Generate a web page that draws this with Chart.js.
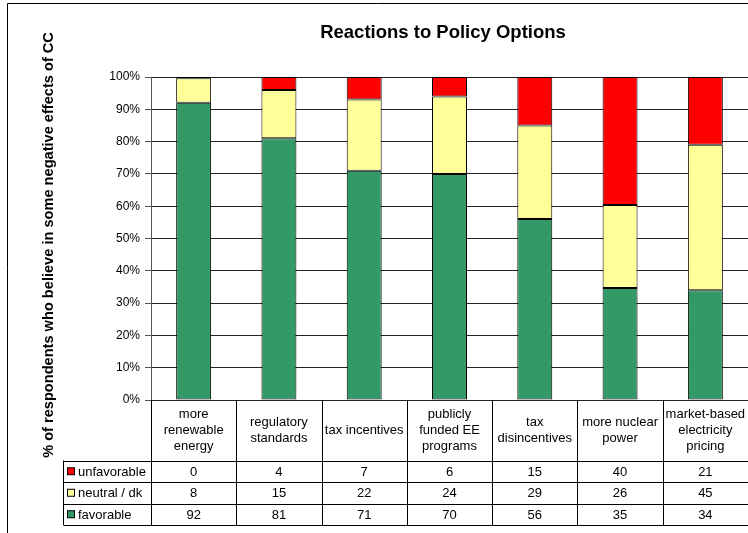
<!DOCTYPE html>
<html>
<head>
<meta charset="utf-8">
<script src="https://cdn.jsdelivr.net/npm/chart.js@4.4.1/dist/chart.umd.min.js"></script>
<style>
html,body{margin:0;padding:0;background:#fff;}
#wrap{width:748px;height:533px;position:relative;}
</style>
</head>
<body>
<div id="wrap"><canvas id="c" width="748" height="533"></canvas></div>
<script>
// ---- data ----
const categories = [
  ['more', 'renewable', 'energy'],
  ['regulatory', 'standards'],
  ['tax incentives'],
  ['publicly', 'funded EE', 'programs'],
  ['tax', 'disincentives'],
  ['more nuclear', 'power'],
  ['market-based', 'electricity', 'pricing']
];
const seriesNames = ['unfavorable', 'neutral / dk', 'favorable'];
const unfavorable = [0.4, 4, 7, 6, 15, 40, 21];
const neutral = [7.6, 15, 22, 24, 29, 26, 45];
const favorable = [92, 81, 71, 70, 56, 35, 34];
const yTicks = [0, 10, 20, 30, 40, 50, 60, 70, 80, 90, 100];
const titleText = 'Reactions to Policy Options';
const yTitle = '% of respondents who believe in some negative effects of CC';

const COLORS = { unfavorable: '#FF0000', neutral: '#FFFF99', favorable: '#339966' };
const FONT = "'Liberation Sans', Arial, sans-serif";

const totals = categories.map((_, i) => unfavorable[i] + neutral[i] + favorable[i]);
const pct = arr => arr.map((v, i) => v / totals[i] * 100);

const tableRows = [
  { name: seriesNames[0], values: unfavorable, color: COLORS.unfavorable },
  { name: seriesNames[1], values: neutral, color: COLORS.neutral },
  { name: seriesNames[2], values: favorable, color: COLORS.favorable }
];

const decorPlugin = {
  id: 'decor',
  afterDraw(chart) {
    const ctx = chart.ctx;
    const area = chart.chartArea;
    const xs = chart.scales.x;
    const n = categories.length;
    const step = xs.getPixelForValue(1) - xs.getPixelForValue(0);
    const edges = [];
    for (let i = 0; i <= n; i++) edges.push(xs.getPixelForValue(i) - step / 2);
    ctx.save();
    // frame
    ctx.strokeStyle = '#000';
    ctx.lineWidth = 1;
    ctx.beginPath();
    ctx.moveTo(7.5, 533); ctx.lineTo(7.5, 3.5); ctx.lineTo(748, 3.5);
    ctx.stroke();
    // title
    ctx.fillStyle = '#000';
    ctx.font = 'bold 18.5px ' + FONT;
    ctx.textAlign = 'center';
    ctx.textBaseline = 'middle';
    ctx.fillText(titleText, 443, 33);
    // y title
    ctx.save();
    ctx.translate(49, 245);
    ctx.rotate(-Math.PI / 2);
    ctx.font = 'bold 14.6px ' + FONT;
    ctx.fillText(yTitle, 0, 0);
    ctx.restore();

    // table
    const top = area.bottom;
    const headerBottom = 460.5;
    const rowH = 21.5;
    const tableLeft = 63.5;
    const rowsBottom = headerBottom + rowH * tableRows.length;
    ctx.strokeStyle = '#000';
    ctx.lineWidth = 1;
    ctx.beginPath();
    edges.forEach((x) => {
      const px = Math.round(x) + 0.5;
      ctx.moveTo(px, top);
      ctx.lineTo(px, rowsBottom);
    });
    ctx.moveTo(tableLeft, headerBottom);
    ctx.lineTo(tableLeft, rowsBottom);
    for (let r = 0; r <= tableRows.length; r++) {
      const y = headerBottom + rowH * r;
      const py = Math.round(y) + 0.5;
      ctx.moveTo(tableLeft, py);
      ctx.lineTo(748, py);
    }
    ctx.stroke();

    // header labels
    ctx.font = '13px ' + FONT;
    ctx.fillStyle = '#000';
    const midY = (top + headerBottom) / 2;
    categories.forEach((lines, i) => {
      const cx = xs.getPixelForValue(i);
      const lh = 16;
      const start = midY - (lines.length - 1) * lh / 2;
      lines.forEach((t, k) => ctx.fillText(t, cx, start + k * lh));
    });
    // rows
    tableRows.forEach((row, r) => {
      const cy = headerBottom + rowH * r + rowH / 2;
      ctx.fillStyle = row.color;
      ctx.fillRect(67.5, cy - 3.5, 7, 7);
      ctx.strokeStyle = '#000';
      ctx.strokeRect(67.5, cy - 3.5, 7, 7);
      ctx.fillStyle = '#000';
      ctx.textAlign = 'left';
      ctx.fillText(row.name, 78, cy + 1);
      ctx.textAlign = 'center';
      row.values.forEach((v, i) => {
        ctx.fillText(String(Math.round(v)), xs.getPixelForValue(i), cy + 1);
      });
    });
    ctx.restore();
  }
};

new Chart(document.getElementById('c'), {
  type: 'bar',
  data: {
    labels: categories.map(l => l.join(' ')),
    datasets: [
      { label: seriesNames[2], data: pct(favorable), backgroundColor: COLORS.favorable },
      { label: seriesNames[1], data: pct(neutral), backgroundColor: COLORS.neutral },
      { label: seriesNames[0], data: pct(unfavorable), backgroundColor: COLORS.unfavorable }
    ].map(d => Object.assign(d, {
      borderColor: '#000', borderWidth: 1, borderSkipped: false,
      categoryPercentage: 1, barPercentage: 0.41
    }))
  },
  options: {
    responsive: false,
    animation: false,
    devicePixelRatio: 1,
    layout: { padding: { left: 0, top: 77, right: 0, bottom: 133 } },
    plugins: { legend: { display: false }, tooltip: { enabled: false }, title: { display: false } },
    scales: {
      x: { display: false, stacked: true },
      y: {
        stacked: true,
        min: 0, max: 100,
        afterFit(scale) { scale.width = 151; },
        afterBuildTicks(scale) { scale.ticks = yTicks.map(v => ({ value: v })); },
        ticks: {
          callback: v => v + '%',
          color: '#000',
          font: { family: FONT, size: 12 },
          padding: 5
        },
        grid: { color: '#222', lineWidth: 1, drawTicks: true, tickLength: 6, tickColor: '#555' },
        border: { color: '#555', width: 1 }
      }
    }
  },
  plugins: [decorPlugin]
});
</script>
</body>
</html>
